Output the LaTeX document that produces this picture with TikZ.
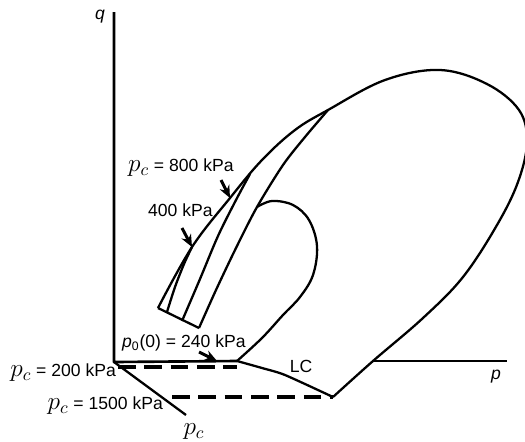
\documentclass[tikz,border=0pt]{standalone}
\usepackage{fontspec}
\setmainfont{Liberation Sans}
\usetikzlibrary{arrows.meta}
\newcommand{\pcsym}{{\fontsize{14}{16}\selectfont$p_c$}}
\tikzset{
  lbl/.style={inner sep=0pt, font=\fontsize{10}{12}\selectfont},
  callout/.style={->, line width=1.7pt},
  cutline/.style={line width=1.9pt, dash pattern=on 10pt off 5pt}
}
\begin{document}
\begin{tikzpicture}[x=0.02cm, y=-0.02cm, >={Stealth[length=7pt,width=6pt]}, line width=1.3pt, line join=round]
	\clip (0,0) rectangle (525,441);
	\coordinate (O) at (114,362);
	\coordinate (qtop) at (114,12);
	\coordinate (P0) at (237,361);
	\coordinate (B) at (333,397);
	\coordinate (pax) at (373,361);
	\coordinate (pend) at (507,361);
	\coordinate (pcend) at (186,415);
	% axes
	\draw[line width=1.5pt] (qtop) -- (O) -- (P0);
	\draw (O) -- (pcend);
	\draw (pax) -- (pend);
	% big surface and outer branch of the strip
	\draw plot[smooth, tension=0.6] coordinates {(333,397) (373,361) (423,318) (463,277) (497,225) (518,182) (527,142) (519,110) (487,84) (440,70) (385,80) (328,110) (295,130) (262,160) (230,198) (192,247) (158,308)};
	% inner branches of the strip
	\draw plot[smooth] coordinates {(328,110) (305,137) (283,165) (257,207) (236,248) (216,290) (199,328)};
	\draw plot[smooth] coordinates {(250,174) (236,200) (218,236) (200,279) (182,321)};
	\draw plot[smooth] coordinates {(192,247) (184,264) (175,287) (167,312)};
	\draw (158,308) -- (199,328);
	% small surface
	\draw plot[smooth, tension=0.6] coordinates {(257,207) (272,201) (293,205) (309,220) (317,246) (313,275) (300,297) (283,315) (262,338) (237,361)};
	% LC
	\draw plot[smooth, tension=0.4] coordinates {(P0) (262,368) (285,375) (B)};
	% dashed levels
	\draw[cutline] (118,367) -- (P0 |- 0,367);
	\draw[cutline] (172,397) -- (B);
	% labels
	\node[lbl] (qlab) at (100,17) {\itshape q};
	\node[lbl] (plab) at (496,377) {\itshape p};
	\node[lbl] (pclab) at (194,432) {\pcsym};
	\node[lbl] (lc) at (301,366) {LC};
	\node[lbl, anchor=east] (pc200) at (117,373) {\pcsym{} = 200 kPa};
	\node[lbl, anchor=east] (pc1500) at (164,406) {\pcsym{} = 1500 kPa};
	\node[lbl, anchor=west] (p0lab) at (121,343) {{\itshape p}\textsubscript{0}(0) = 240 kPa};
	\node[lbl, anchor=west] (pc800) at (127,168) {\pcsym{} = 800 kPa};
	\node[lbl, anchor=west] (k400) at (147,210) {400 kPa};
	% pointers
	\coordinate (t800) at (230,198);
	\coordinate (t400) at (192,247);
	\coordinate (t240) at (217,361);
	\draw[callout] (221,180) -- (t800);
	\draw[callout] (182,228) -- (t400);
	\draw[callout] (199,352) -- (t240);
\end{tikzpicture}
\end{document}
